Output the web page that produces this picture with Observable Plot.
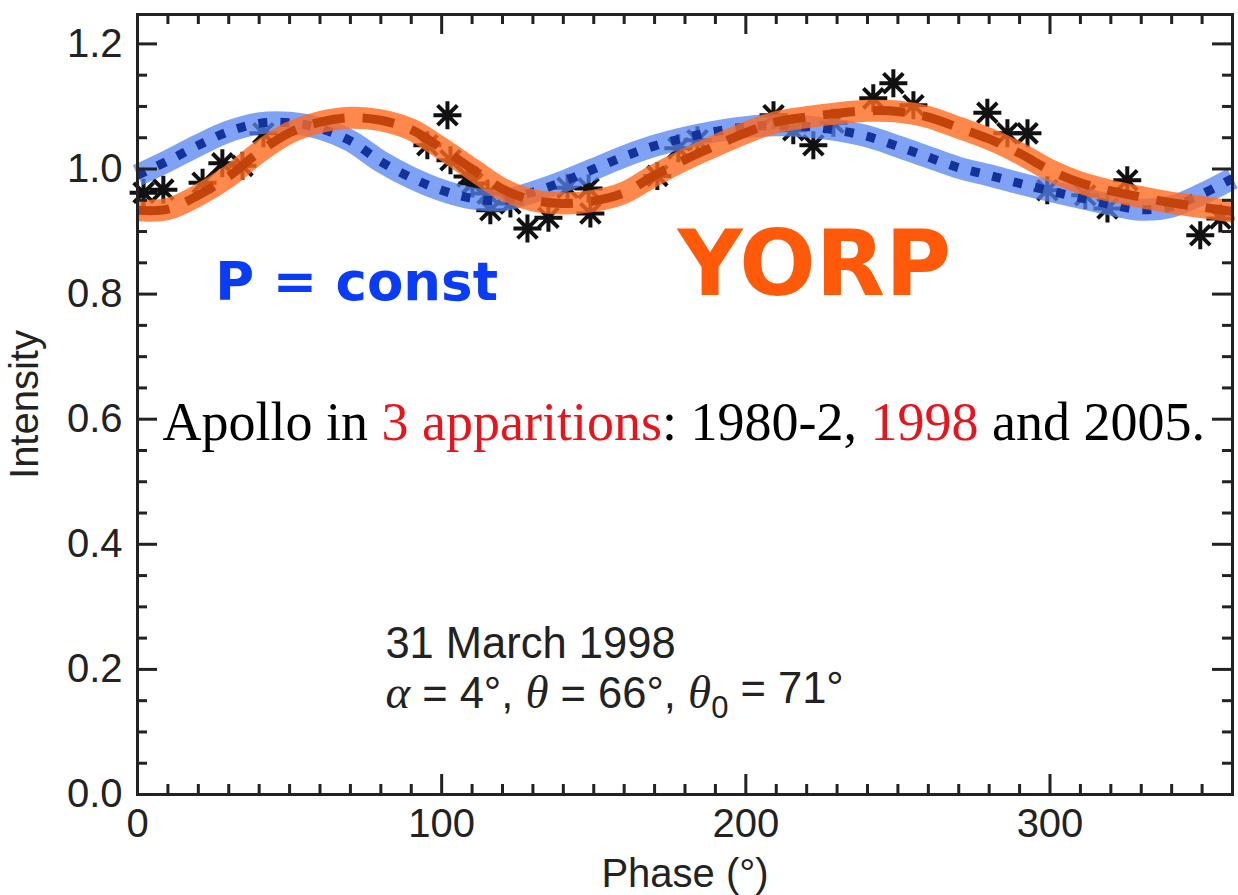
<!DOCTYPE html>
<html>
<head>
<meta charset="utf-8">
<script src="https://cdn.jsdelivr.net/npm/d3@7"></script>
<script src="https://cdn.jsdelivr.net/npm/@observablehq/plot@0.6"></script>
<style>
  html, body { margin: 0; padding: 0; background: #fff; }
  #chart svg { display: block; }
</style>
</head>
<body>
<div id="chart"></div>
<script>
// Observed lightcurve of Apollo, 31 March 1998 (phase in degrees, relative intensity)
const obsPhase = [2.0, 8.5, 21.4, 27.9, 34.5, 41.4, 95.3, 101.9, 102.9, 108.5, 110.1, 115.1, 116.0,
  122.6, 128.2, 135.1, 141.4, 148.3, 148.9, 170.9, 177.8, 184.1, 209.1, 215.6, 222.2, 228.8,
  241.9, 248.5, 255.1, 279.4, 286.0, 292.6, 299.1, 311.6, 318.9, 325.4, 349.4, 356.0];
const obsIntensity = [0.962, 0.967, 0.978, 1.009, 1.005, 1.057, 1.038, 1.086, 1.014, 0.988, 0.977,
  0.961, 0.934, 0.945, 0.905, 0.922, 0.970, 0.969, 0.929, 0.989, 1.033, 1.046, 1.086, 1.062, 1.038,
  1.074, 1.113, 1.137, 1.102, 1.090, 1.057, 1.057, 0.966, 0.958, 0.937, 0.982, 0.894, 0.921];

// Model lightcurves sampled every 10 degrees of phase
const modelPhase = [0, 10, 20, 30, 40, 50, 60, 70, 80, 90, 100, 110, 120, 130, 140, 150, 160, 170,
  180, 190, 200, 210, 220, 230, 240, 250, 260, 270, 280, 290, 300, 310, 320, 330, 340, 350, 360];
const constPeriod = [0.990, 1.013, 1.038, 1.060, 1.073, 1.074, 1.065, 1.045, 1.012, 0.986, 0.966,
  0.953, 0.950, 0.963, 0.980, 1.000, 1.020, 1.037, 1.050, 1.060, 1.067, 1.070, 1.068, 1.062, 1.052,
  1.036, 1.019, 1.002, 0.990, 0.977, 0.965, 0.954, 0.943, 0.935, 0.940, 0.960, 0.985];
const yorpModel = [0.934, 0.936, 0.958, 0.988, 1.027, 1.058, 1.075, 1.082, 1.078, 1.063, 1.033,
  1.000, 0.968, 0.950, 0.945, 0.949, 0.962, 0.990, 1.015, 1.037, 1.058, 1.075, 1.083, 1.089, 1.093,
  1.092, 1.083, 1.066, 1.048, 1.025, 0.998, 0.978, 0.965, 0.955, 0.946, 0.939, 0.932];

// Axis ticks
const xMajor = [0, 100, 200, 300];
const xMinor = d3.range(0, 361, 10).filter(v => v % 100 !== 0);
const yMajor = [0, 0.2, 0.4, 0.6, 0.8, 1.0, 1.2];
const yMinor = d3.range(0, 25).map(i => i * 0.05).filter((v, i) => i % 4 !== 0);

// Annotation texts
const constLabel = "P = const";
const yorpLabel = "YORP";
const captionParts = [
  {text: "Apollo in ", color: "#000"},
  {text: "3 apparitions", color: "#e8141c"},
  {text: ": 1980-2, ", color: "#000"},
  {text: "1998", color: "#e8141c"},
  {text: " and 2005.", color: "#000"}
];
const dateLabel = "31 March 1998";
const angleParts = [
  {text: "α", greek: true},
  {text: " = 4°, "},
  {text: "θ", greek: true},
  {text: " = 66°, "},
  {text: "θ", greek: true},
  {text: "0", sub: true},
  {text: " = 71°"}
];
const caption = captionParts.map(p => p.text).join("");
const angleLabel = angleParts.map(p => p.text).join("");

const observations = obsPhase.map((p, i) => ({phase: p, intensity: obsIntensity[i]}));
const models = modelPhase.map((p, i) => ({phase: p, constP: constPeriod[i], yorp: yorpModel[i]}));

// Eight-armed asterisk used for the measurements
const asterisk = {
  draw(ctx, size) {
    const r = Math.sqrt(size / Math.PI);
    const d = r * Math.SQRT1_2;
    ctx.moveTo(-r, 0); ctx.lineTo(r, 0);
    ctx.moveTo(0, -r); ctx.lineTo(0, r);
    ctx.moveTo(-d, -d); ctx.lineTo(d, d);
    ctx.moveTo(-d, d); ctx.lineTo(d, -d);
  }
};

const W = 1238, H = 895;
const mL = 137, mR = 6, mT = 14, mB = 101;
const plotW = W - mL - mR, plotH = H - mT - mB;
const ink = "#222";
const majorLen = 20, minorLen = 10;

const plot = Plot.plot({
  width: W,
  height: H,
  marginLeft: mL,
  marginRight: mR,
  marginTop: mT,
  marginBottom: mB,
  style: {fontFamily: "'Liberation Sans', Arial, sans-serif", fontSize: "40px", color: ink, background: "#fff"},
  x: {domain: [0, 360]},
  y: {domain: [0, 1.247]},
  marks: [
    // measurements
    Plot.dot(observations, {x: "phase", y: "intensity", symbol: asterisk, r: 14, stroke: "#111", strokeWidth: 4, fill: "none"}),
    // constant-period model: translucent band with dotted centre line
    Plot.line(models, {x: "phase", y: "constP", curve: "catmull-rom", stroke: "#5583f2", strokeOpacity: 0.75, strokeWidth: 22, strokeLinecap: "butt"}),
    Plot.line(models, {x: "phase", y: "constP", curve: "catmull-rom", stroke: "#14329a", strokeWidth: 9, strokeDasharray: "9,13", strokeLinecap: "butt"}),
    // YORP model: translucent band with dashed centre line
    Plot.line(models, {x: "phase", y: "yorp", curve: "catmull-rom", stroke: "#ff6a20", strokeOpacity: 0.8, strokeWidth: 22, strokeLinecap: "butt"}),
    Plot.line(models, {x: "phase", y: "yorp", curve: "catmull-rom", stroke: "#c2440c", strokeWidth: 9, strokeDasharray: "32,18", strokeLinecap: "butt"}),
    // inward tick marks on all four sides
    Plot.ruleX(xMajor, {x: d => d, stroke: ink, strokeWidth: 3, insetTop: plotH - majorLen}),
    Plot.ruleX(xMinor, {x: d => d, stroke: ink, strokeWidth: 3, insetTop: plotH - minorLen}),
    Plot.ruleX(xMajor, {x: d => d, stroke: ink, strokeWidth: 3, insetBottom: plotH - majorLen}),
    Plot.ruleX(xMinor, {x: d => d, stroke: ink, strokeWidth: 3, insetBottom: plotH - minorLen}),
    Plot.ruleY(yMajor, {y: d => d, stroke: ink, strokeWidth: 3, insetRight: plotW - majorLen}),
    Plot.ruleY(yMinor, {y: d => d, stroke: ink, strokeWidth: 3, insetRight: plotW - minorLen}),
    Plot.ruleY(yMajor, {y: d => d, stroke: ink, strokeWidth: 3, insetLeft: plotW - majorLen}),
    Plot.ruleY(yMinor, {y: d => d, stroke: ink, strokeWidth: 3, insetLeft: plotW - minorLen}),
    Plot.frame({stroke: ink, strokeWidth: 3}),
    // tick labels and axis titles
    Plot.axisX({ticks: xMajor, tickSize: 0, tickPadding: 14, fontSize: 40, label: "Phase (°)", labelAnchor: "center", labelArrow: "none", labelOffset: 92, tickFormat: d => String(d)}),
    Plot.axisY({ticks: yMajor, tickSize: 0, tickPadding: 15, fontSize: 40, label: "Intensity", labelAnchor: "center", labelOffset: 128, labelArrow: "none", tickFormat: d => d.toFixed(1)}),
    // annotations
    Plot.text([constLabel], {x: 25.6, y: 0.79, text: d => d, textAnchor: "start", lineAnchor: "bottom", fontFamily: "'DejaVu Sans', sans-serif", fontWeight: "bold", fontSize: 53, fill: "#0a3cf5"}),
    Plot.text([yorpLabel], {x: 177.5, y: 0.798, text: d => d, textAnchor: "start", lineAnchor: "bottom", fontFamily: "'DejaVu Sans', sans-serif", fontWeight: "bold", fontSize: 90, fill: "#ff5a0a"}),
    Plot.text([caption], {x: 8.2, y: 0.566, text: d => d, textAnchor: "start", lineAnchor: "bottom", fontFamily: "'Liberation Serif', serif", fontSize: 54, fill: "#000"}),
    Plot.text([dateLabel], {x: 81.5, y: 0.219, text: d => d, textAnchor: "start", lineAnchor: "bottom", fontSize: 43.5, fill: ink}),
    Plot.text([angleLabel], {x: 81.5, y: 0.139, text: d => d, textAnchor: "start", lineAnchor: "bottom", fontSize: 43.5, fill: ink})
  ]
});

// Rich text: colour the highlighted words and typeset the angle line
d3.select(plot).selectAll("text").each(function () {
  const t = d3.select(this);
  if (this.textContent === caption) {
    t.text(null);
    captionParts.forEach(p => t.append("tspan").attr("fill", p.color).text(p.text));
  } else if (this.textContent === angleLabel) {
    t.text(null);
    let lowered = false;
    angleParts.forEach(p => {
      const s = t.append("tspan").text(p.text);
      if (p.greek) s.attr("font-family", "'Liberation Serif', serif").attr("font-style", "italic").attr("font-size", 47);
      if (p.sub) { s.attr("dy", "0.35em").attr("font-size", 31); lowered = true; }
      else if (lowered) { s.attr("dy", "-0.35em"); lowered = false; }
    });
  }
});

document.getElementById("chart").appendChild(plot);
</script>
</body>
</html>
